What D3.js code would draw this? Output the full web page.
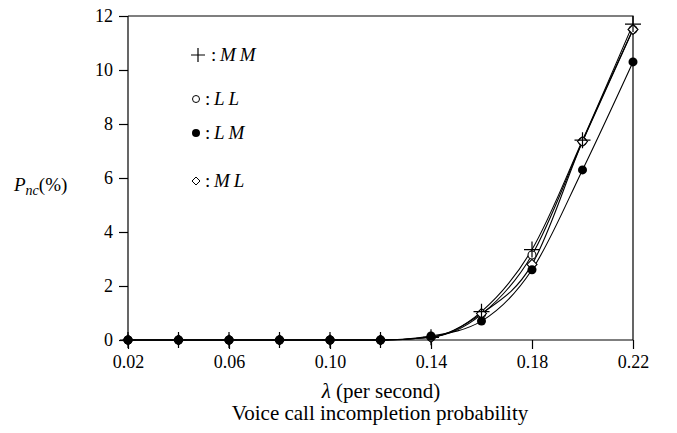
<!DOCTYPE html>
<html><head><meta charset="utf-8">
<script src="https://cdn.jsdelivr.net/npm/d3@7"></script>
<style>body{margin:0;background:#fff}svg{display:block}
svg text{font-family:"Liberation Serif","Times New Roman","DejaVu Serif",Times,serif !important;}
</style>
</head><body>
<svg id="c" width="677" height="433"></svg>
<script>
const lambdas = [0.02,0.04,0.06,0.08,0.10,0.12,0.14,0.16,0.18,0.20,0.22];
const mmValues = [0,0,0,0,0,0,0.1,1.05,3.35,7.4,11.7];
const llValues = [0,0,0,0,0,0,0.1,0.95,3.15,7.35,11.5];
const lmValues = [0,0,0,0,0,0,0.15,0.7,2.6,6.3,10.3];
const mlValues = [0,0,0,0,0,0,0.1,0.98,2.8,7.35,11.5];
const xTicks = [0.02,0.06,0.10,0.14,0.18,0.22];
const yTicks = [0,2,4,6,8,10,12];

const svg = d3.select("#c");
const L=128,R=633,T=16,B=340;
const x = d3.scaleLinear().domain([0.02,0.22]).range([L,R]);
const y = d3.scaleLinear().domain([0,12]).range([B,T]);

svg.append("path").attr("d",`M${L},${T}H${R}V${B}`).attr("fill","none").attr("stroke","#000").attr("stroke-width",1.2);

const xa = svg.append("g").attr("transform",`translate(0,${B})`)
  .call(d3.axisBottom(x).tickValues(xTicks).tickFormat(d3.format(".2f")).tickSize(9).tickPadding(6));
const ya = svg.append("g").attr("transform",`translate(${L},0)`)
  .call(d3.axisLeft(y).tickValues(yTicks).tickFormat(d3.format("d")).tickSize(9).tickPadding(6));
[xa,ya].forEach(a=>{
  a.attr("font-family",null).attr("font-size",null);
  a.selectAll("path,line").attr("stroke","#000").attr("stroke-width",1.2);
  a.selectAll("text").style("font-size","18px").attr("fill","#000");
});
ya.select(".domain").attr("d",`M0,${T}V${B}`);
xa.select(".domain").attr("d",`M${L},0H${R}`);

const series = [
  {vals:mmValues, m:"plus"},
  {vals:llValues, m:"open"},
  {vals:lmValues, m:"dot"},
  {vals:mlValues, m:"diamond"}
];
const line = d3.line().x((d,i)=>x(lambdas[i])).y(d=>y(d)).curve(d3.curveMonotoneX);
series.forEach(s=>{
  svg.append("path").attr("d",line(s.vals)).attr("fill","none").attr("stroke","#000").attr("stroke-width",1.1);
});

function marker(g,type,cx,cy){
  if(type==="plus"){
    g.append("path").attr("d",`M${cx-8},${cy}H${cx+8}M${cx},${cy-8}V${cy+8}`).attr("stroke","#000").attr("stroke-width",1.2);
  } else if(type==="open"){
    g.append("circle").attr("cx",cx).attr("cy",cy).attr("r",4).attr("fill","#fff").attr("stroke","#000").attr("stroke-width",1.1);
  } else if(type==="dot"){
    g.append("circle").attr("cx",cx).attr("cy",cy).attr("r",4.5).attr("fill","#000");
  } else {
    g.append("path").attr("d",`M${cx},${cy-5}L${cx+5},${cy}L${cx},${cy+5}L${cx-5},${cy}Z`).attr("fill","#fff").attr("stroke","#000").attr("stroke-width",1.1);
  }
}
const order = [series[1],series[3],series[0],series[2]];
order.forEach(s=>{
  const g=svg.append("g");
  s.vals.forEach((v,i)=>marker(g,s.m,x(lambdas[i]),y(v)));
});

const legend = [
  {m:"plus",label:"MM",yy:55},
  {m:"open",label:"LL",yy:99},
  {m:"dot",label:"LM",yy:133},
  {m:"diamond",label:"ML",yy:181}
];
legend.forEach(d=>{
  const g=svg.append("g");
  if(d.m==="plus"){
    g.append("path").attr("d",`M${191},${d.yy}H${205}M${198},${d.yy-7}V${d.yy+7}`).attr("stroke","#000").attr("stroke-width",1.2);
  } else if(d.m==="open"){
    g.append("circle").attr("cx",196).attr("cy",d.yy).attr("r",3.5).attr("fill","#fff").attr("stroke","#000");
  } else if(d.m==="dot"){
    g.append("circle").attr("cx",196).attr("cy",d.yy).attr("r",4).attr("fill","#000");
  } else {
    g.append("path").attr("d",`M196,${d.yy-4}L200,${d.yy}L196,${d.yy+4}L192,${d.yy}Z`).attr("fill","#fff").attr("stroke","#000");
  }
  const t=g.append("text").attr("x",d.m==="plus"?211:205).attr("y",d.yy+6).style("font-size","19px");
  t.append("tspan").text(":\u2009");
  t.append("tspan").attr("font-style","italic").text(d.label.split("").join("\u2009"));
});

const yl = svg.append("text").attr("x",14).attr("y",191).style("font-size","19px");
yl.append("tspan").attr("font-style","italic").text("P");
yl.append("tspan").attr("font-style","italic").style("font-size","14px").attr("dy",4).text("nc");
yl.append("tspan").attr("dy",-4).text("(%)");

const xl = svg.append("text").attr("x",381).attr("y",398).attr("text-anchor","middle").style("font-size","21px");
xl.append("tspan").attr("font-style","italic").text("λ");
xl.append("tspan").text(" (per second)");
svg.append("text").attr("x",380).attr("y",420).attr("text-anchor","middle").style("font-size","21px").text("Voice call incompletion probability");
</script>
</body></html>
